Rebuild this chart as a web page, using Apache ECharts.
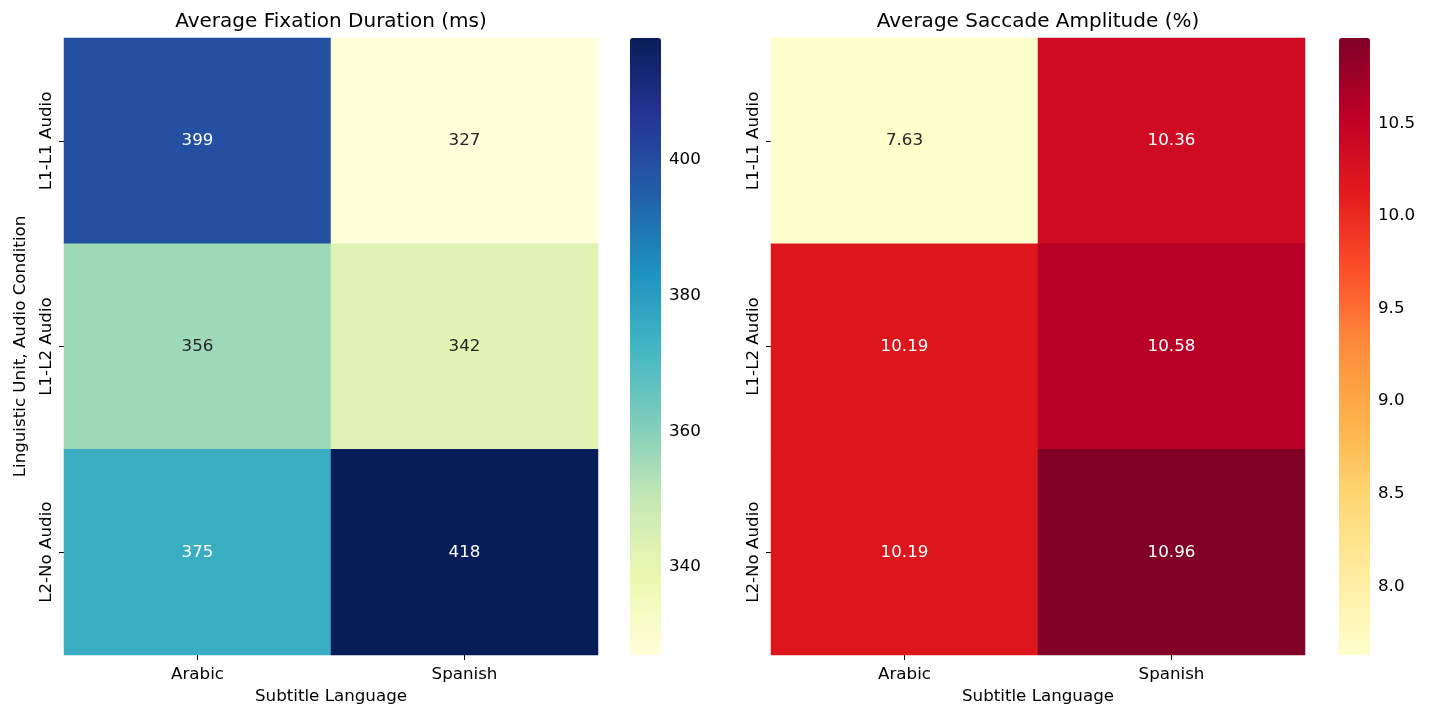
<!DOCTYPE html>
<html>
<head>
<meta charset="utf-8">
<script src="https://cdn.jsdelivr.net/npm/echarts@6/dist/echarts.min.js"></script>
<style>
html,body{margin:0;padding:0;background:#fff;}
#chart{width:1430px;height:719px;}
</style>
</head>
<body>
<div id="chart"></div>
<script>
const subtitleLangs = ['Arabic', 'Spanish'];
const conditions = ['L1-L1 Audio', 'L1-L2 Audio', 'L2-No Audio'];
const fixationDuration = [[399, 327], [356, 342], [375, 418]];
const saccadeAmplitude = [[7.63, 10.36], [10.19, 10.58], [10.19, 10.96]];
const fixationTicks = [340, 360, 380, 400];
const saccadeTicks = [8.0, 8.5, 9.0, 9.5, 10.0, 10.5];
const titles = ['Average Fixation Duration (ms)', 'Average Saccade Amplitude (%)'];
const xName = 'Subtitle Language';
const yName = 'Linguistic Unit, Audio Condition';

const YlGnBu = ['#ffffd9','#edf8b1','#c7e9b4','#7fcdbb','#41b6c4','#1d91c0','#225ea8','#253494','#081d58'];
const YlOrRd = ['#ffffcc','#ffeda0','#fed976','#feb24c','#fd8d3c','#fc4e2a','#e31a1c','#bd0026','#800026'];
const FONT = 'DejaVu Sans';
const FS = 16.7;

function toCells(m) {
  const out = [];
  m.forEach((row, r) => row.forEach((v, c) => out.push([c, r, v])));
  return out;
}
function flat(m) { return m.reduce((a, r) => a.concat(r), []); }
function hex(h) { return [1,3,5].map(i => parseInt(h.substr(i,2),16)/255); }
function cmapAt(stops, t) {
  t = Math.max(0, Math.min(1, t));
  const p = t * (stops.length - 1);
  const i = Math.min(Math.floor(p), stops.length - 2);
  const f = p - i;
  const a = hex(stops[i]), b = hex(stops[i+1]);
  return a.map((x, k) => x + (b[k] - x) * f);
}
function lum(rgb) {
  const c = rgb.map(x => x <= 0.03928 ? x / 12.92 : Math.pow((x + 0.055) / 1.055, 2.4));
  return 0.2126 * c[0] + 0.7152 * c[1] + 0.0722 * c[2];
}
function textColor(stops, vmin, vmax, v) {
  return lum(cmapAt(stops, (v - vmin) / (vmax - vmin))) > 0.408 ? '#262626' : '#ffffff';
}

const panels = [
  { data: fixationDuration, stops: YlGnBu, ticks: fixationTicks, fmt: v => v.toFixed(0), tfmt: v => String(v), left: 64, cbLeft: 630, yname: true },
  { data: saccadeAmplitude, stops: YlOrRd, ticks: saccadeTicks, fmt: v => v.toFixed(2), tfmt: v => v.toFixed(1), left: 771, cbLeft: 1339, yname: false }
];
const TOP = 38, H = 617, W = 534, CBW = 31;

const grid = [], xAxis = [], yAxis = [], series = [], visualMap = [], title = [];
panels.forEach((p, i) => {
  const vals = flat(p.data);
  const vmin = Math.min(...vals), vmax = Math.max(...vals);
  grid.push({ left: p.left, top: TOP, width: W, height: H });
  xAxis.push({
    type: 'category', gridIndex: grid.length - 1, data: subtitleLangs, position: 'bottom',
    name: xName, nameLocation: 'middle', nameGap: 33,
    nameTextStyle: { fontFamily: FONT, fontSize: FS, color: '#000' },
    axisLine: { show: false }, splitLine: { show: false },
    axisTick: { show: true, alignWithLabel: true, length: 5, lineStyle: { color: '#000' } },
    axisLabel: { fontFamily: FONT, fontSize: FS, color: '#000', margin: 11 }
  });
  yAxis.push({
    type: 'category', gridIndex: grid.length - 1, data: conditions, inverse: true,
    name: p.yname ? yName : '', nameLocation: 'middle', nameGap: 35, nameRotate: 90,
    nameTextStyle: { fontFamily: FONT, fontSize: FS, color: '#000' },
    axisLine: { show: false }, splitLine: { show: false },
    axisTick: { show: true, alignWithLabel: true, length: 5, lineStyle: { color: '#000' } },
    axisLabel: { fontFamily: FONT, fontSize: FS, color: '#000', rotate: 90, margin: 9 }
  });
  const hmIndex = series.length;
  series.push({
    type: 'heatmap', xAxisIndex: xAxis.length - 1, yAxisIndex: yAxis.length - 1,
    data: toCells(p.data).map(c => ({
      value: c, label: { color: textColor(p.stops, vmin, vmax, c[2]) }
    })),
    label: {
      show: true, fontFamily: FONT, fontSize: FS,
      formatter: d => p.fmt(d.value[2])
    },
    itemStyle: { borderWidth: 0 },
    emphasis: { disabled: true }
  });
  visualMap.push({
    type: 'continuous', seriesIndex: hmIndex, dimension: 2, min: vmin, max: vmax,
    inRange: { color: p.stops }, calculable: false, text: null, showLabel: false,
    left: p.cbLeft, top: TOP, itemWidth: CBW, itemHeight: H, padding: 0, hoverLink: false
  });
  grid.push({ left: p.cbLeft, top: TOP, width: CBW, height: H });
  xAxis.push({ type: 'value', gridIndex: grid.length - 1, show: false, min: 0, max: 1 });
  yAxis.push({
    type: 'value', gridIndex: grid.length - 1, position: 'right', min: vmin, max: vmax,
    axisLine: { show: false }, splitLine: { show: false },
    axisTick: { show: true, length: 5, lineStyle: { color: '#000' }, customValues: p.ticks },
    axisLabel: { fontFamily: FONT, fontSize: FS, color: '#000', margin: 8, customValues: p.ticks, formatter: v => p.tfmt(v) }
  });
  title.push({
    text: titles[i], left: p.left + W / 2 - 5, top: 7, textAlign: 'center',
    textStyle: { fontFamily: FONT, fontSize: 20, fontWeight: 'normal', color: '#000' }
  });
});

const chart = echarts.init(document.getElementById('chart'), null, { renderer: 'canvas' });
chart.setOption({
  animation: false,
  backgroundColor: '#fff',
  title, grid, xAxis, yAxis, series, visualMap
});
</script>
</body>
</html>
